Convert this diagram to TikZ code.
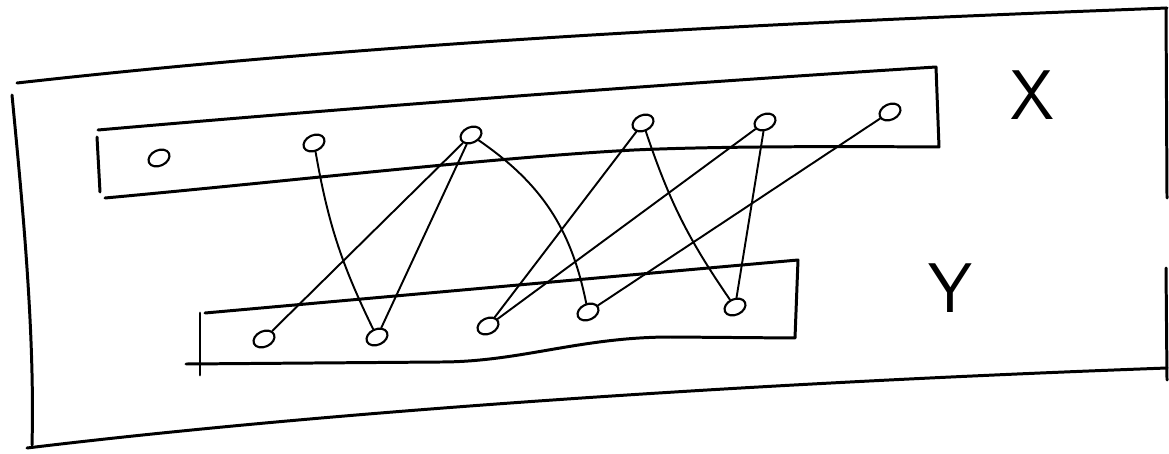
\documentclass[tikz,border=0pt]{standalone}
\usepackage{tikz}
\usetikzlibrary{shapes.geometric}
\begin{document}
\begin{tikzpicture}[x=0.02cm,y=-0.02cm,
  frame/.style={line width=1.7pt,line cap=round,line join=round},
  dot/.style={draw,ellipse,line width=1.2pt,inner sep=0pt,minimum width=0.44cm,minimum height=0.31cm,rotate=25},
  lnk/.style={line width=1.1pt,line cap=round},
  lbl/.style={font=\sffamily\fontsize{40}{40}\selectfont,inner sep=0pt}]
\useasboundingbox (0,0) rectangle (1169,453);
% outer sheet
\draw[frame] (17,83) .. controls (400,40) and (800,22) .. (1167,8);
\draw[frame] (12,95) .. controls (22,200) and (35,330) .. (32,445);
\draw[frame] (27,448) .. controls (300,415) and (700,385) .. (1167,368);
\draw[frame] (1166,8) -- (1167,198);
\draw[frame] (1166,268) -- (1167,380);
% set X
\draw[frame] (98,130) .. controls (350,108) and (650,85) .. (936,67) -- (939,147)
  .. controls (800,146) and (700,147) .. (634,150) .. controls (500,157) and (300,180) .. (105,198);
\draw[frame] (97,137) -- (100,192);
% set Y
\draw[frame] (205,313) -- (798,260) -- (795,338) -- (671,337)
  .. controls (580,337) and (520,362) .. (440,362) -- (186,364);
\draw[frame] (200,313) -- (200,375);
% elements
\node[dot] (x1) at (159,158) {};
\node[dot] (x2) at (314,143) {};
\node[dot] (x3) at (471,135) {};
\node[dot] (x4) at (643,123) {};
\node[dot] (x5) at (765,122) {};
\node[dot] (x6) at (890,112) {};
\node[dot] (y1) at (264,339) {};
\node[dot] (y2) at (377,337) {};
\node[dot] (y3) at (488,326) {};
\node[dot] (y4) at (588,312) {};
\node[dot] (y5) at (735,307) {};
\node[lbl] (lx) at (1032,95) {X};
\node[lbl] (ly) at (950,288) {Y};
% pairs
\draw[lnk] (x2) to[bend right=8] (y2);
\draw[lnk] (x3) -- (y1);
\draw[lnk] (x3) -- (y2);
\draw[lnk] (x3) to[bend left=22] (y4);
\draw[lnk] (x4) -- (y3);
\draw[lnk] (x4) to[bend right=8] (y5);
\draw[lnk] (x5) -- (y3);
\draw[lnk] (x5) -- (y5);
\draw[lnk] (x6) -- (y4);
\end{tikzpicture}
\end{document}
